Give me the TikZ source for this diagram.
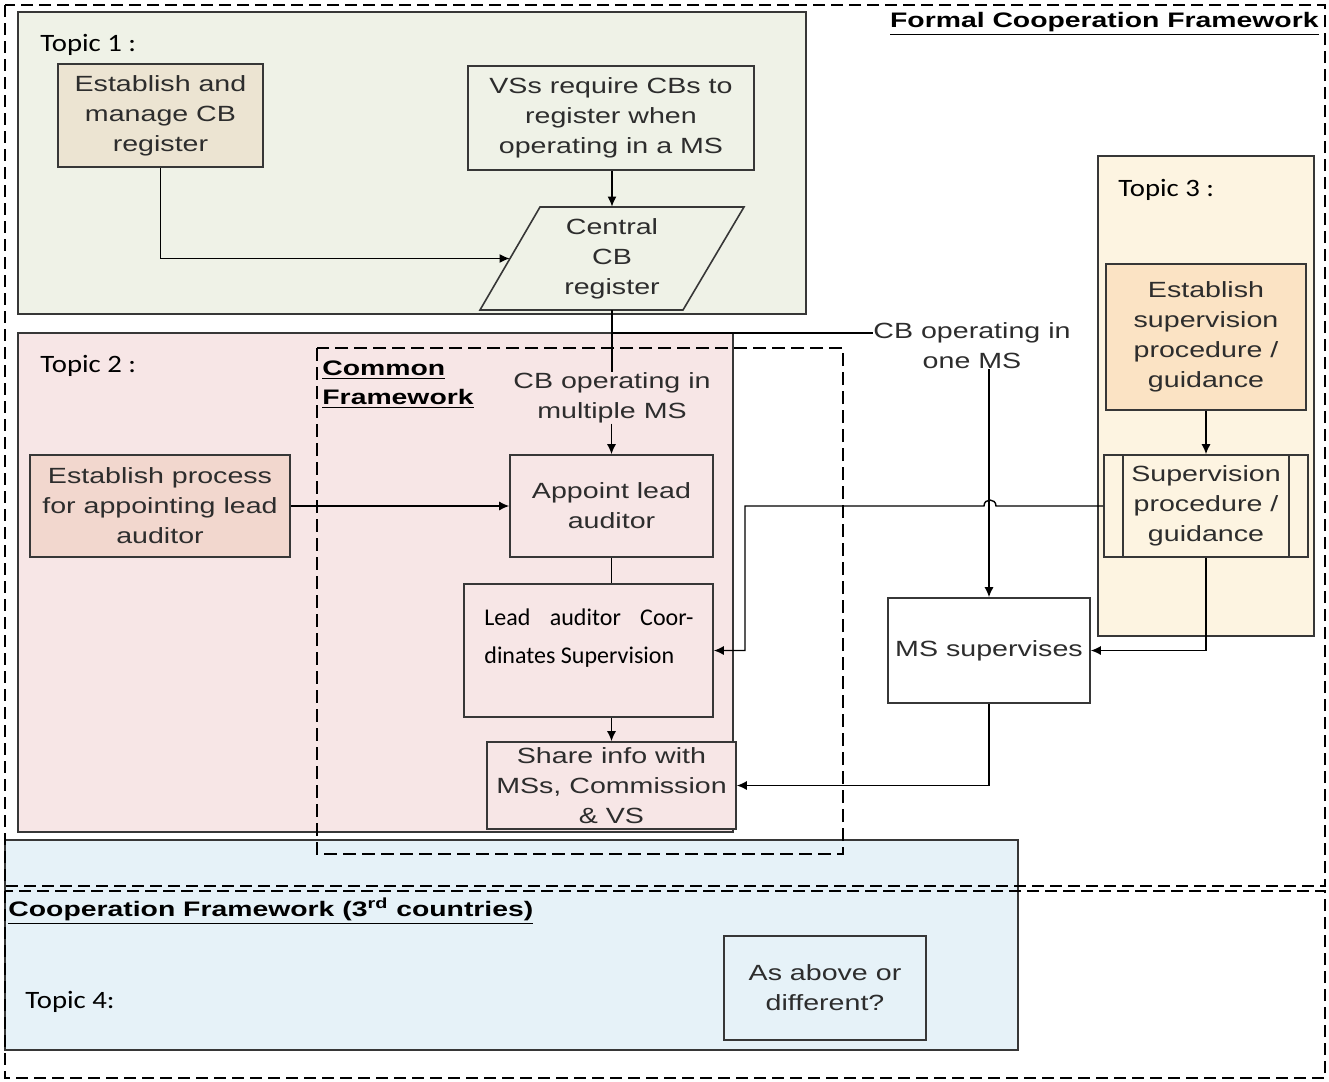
\documentclass[tikz,border=0pt]{standalone}
\usepackage{fontspec}
\setmainfont{Liberation Sans}[FakeStretch=1.3]
\newfontfamily\titlefont{Liberation Sans}[FakeStretch=1.35]
\newfontfamily\calfont{Carlito}
\newfontfamily\topicfont{Carlito}[FakeStretch=1.15]
\usetikzlibrary{arrows.meta,calc}
\definecolor{tonebg}{RGB}{239,242,231}
\definecolor{tonebox}{RGB}{236,228,210}
\definecolor{ttwobg}{RGB}{247,230,230}
\definecolor{ttwobox}{RGB}{242,215,206}
\definecolor{tthreebg}{RGB}{253,244,225}
\definecolor{tthreebox}{RGB}{251,227,196}
\definecolor{tfourbg}{RGB}{230,242,248}
\definecolor{edge}{RGB}{55,55,55}
\definecolor{textcol}{RGB}{45,45,45}
\begin{document}
\begin{tikzpicture}[x=0.5pt,y=-0.5pt,
  topicbox/.style={draw=edge,line width=0.8pt},
  bx/.style={draw=edge,line width=0.8pt,inner sep=0pt,align=center,text=textcol,font=\fontsize{11}{15}\selectfont},
  lbl/.style={inner sep=0pt,align=center,text=textcol,font=\fontsize{11}{15}\selectfont},
  frame/.style={line width=1pt,dash pattern=on 6pt off 3pt},
  cframe/.style={line width=0.75pt,dash pattern=on 6.5pt off 3pt},
  conn/.style={line width=0.7pt,draw=black},
  arr/.style={conn,-{Latex[length=5pt,width=4.5pt]}},
  topic/.style={font=\topicfont\fontsize{12.5}{15}\selectfont,anchor=base west,inner sep=0pt,text=black},
  leadtext/.style={font=\calfont\fontsize{12}{15}\selectfont,anchor=base west,inner sep=0pt,text=black},
  title/.style={font=\titlefont\bfseries\fontsize{10.5}{14.5}\selectfont,inner sep=0pt,text=black}]
\useasboundingbox (0,0) rectangle (1329,1082);
\fill[white] (0,0) rectangle (1329,1082);
% topic areas
\draw[topicbox,fill=tonebg] (18,12) rectangle (806,314);
\draw[topicbox,fill=ttwobg] (18,333) rectangle (733,832);
\draw[topicbox,fill=tthreebg] (1098,156) rectangle (1314,636);
\draw[topicbox,fill=tfourbg] (5,840) rectangle (1018,1050);
% dashed frames
\draw[frame] (5,5) rectangle (1325,886);
\draw[frame] (5,891) rectangle (1325,1078);
\draw[cframe] (317,348) rectangle (843,854);
% parallelogram
\draw[line width=0.8pt,draw=edge,fill=tonebg] (540,207) -- (744,207) -- (683,310) -- (480,310) -- cycle;
% nodes
\node[bx,fill=tonebox,minimum width=102.5pt,minimum height=51.5pt] (est1) at (160.5,115.5) {Establish and\\manage CB\\register};
\node[bx,fill=tonebg,minimum width=143pt,minimum height=52pt] (vss) at (611,118) {VSs require CBs to\\register when\\operating in a MS};
\node[lbl,minimum width=102pt,minimum height=51.5pt] (reg) at (612,258.5) {Central\\CB\\register};
\node[bx,fill=ttwobg,minimum width=101.5pt,minimum height=51pt] (apl) at (611.5,506) {Appoint lead\\auditor};
\node[bx,fill=ttwobox,minimum width=130pt,minimum height=51pt] (estp) at (160,506) {Establish process\\for appointing lead\\auditor};
\node[bx,fill=ttwobg,minimum width=124.5pt,minimum height=66.5pt] (lead) at (588.5,650.5) {};
\node[leadtext] (leada) at (484,625) {\makebox[104.5pt][s]{Lead auditor Coor-}};
\node[leadtext] (leadb) at (484,663) {dinates Supervision};
\node[bx,fill=ttwobg,minimum width=124.5pt,minimum height=43.5pt] (share) at (611.5,785.5) {Share info with\\MSs, Commission\\\& VS};
\node[bx,fill=tthreebox,minimum width=100pt,minimum height=73pt] (ests) at (1206,337) {Establish\\supervision\\procedure /\\guidance};
\node[bx,fill=tthreebg,minimum width=102pt,minimum height=51pt] (sup) at (1206,506) {Supervision\\procedure /\\guidance};
\draw[draw=edge,line width=0.8pt] ([xshift=10pt]sup.north west) -- ([xshift=10pt]sup.south west);
\draw[draw=edge,line width=0.8pt] ([xshift=-10pt]sup.north east) -- ([xshift=-10pt]sup.south east);
\node[bx,fill=white,minimum width=101pt,minimum height=52.5pt] (ms) at (989,650.5) {MS supervises};
\node[bx,fill=tfourbg,minimum width=101pt,minimum height=52pt] (asab) at (825,988) {As above or\\different?};
% labels
\node[lbl] (onems) at (972,346) {CB operating in\\one MS};
\node[lbl] (multi) at (612,398) {CB operating in\\multiple MS};
\node[topic] (t1) at (40,51) {Topic 1 :};
\node[topic] (t2) at (40,372) {Topic 2 :};
\node[topic] (t3) at (1118,196) {Topic 3 :};
\node[topic] (t4) at (25,1008) {Topic 4:};
\node[title,anchor=base east] (fcf) at (1319,27) {\underline{Formal Cooperation Framework}};
\node[title,anchor=base west] (cfa) at (322,375) {\underline{Common}};
\node[title,anchor=base west] (cfb) at (322,404) {\underline{Framework}};
\node[title,anchor=base west] (cft) at (8,916) {\underline{Cooperation Framework (3\textsuperscript{rd} countries)}};
% connectors
\coordinate (jn) at (612,333);
\coordinate (bendl) at (745,506);
\draw[arr] (est1.south) |- (reg.west);
\draw[arr] (vss.south -| reg.north) -- (reg.north);
\draw[conn] (reg.south) -- (reg.south |- multi.north);
\draw[conn] (jn) -- (jn -| onems.west);
\draw[arr] (ms.north |- onems.south) -- (ms.north);
\draw[arr] (apl.north |- multi.south) -- (apl.north);
\draw[arr] (estp.east) -- (apl.west);
\draw[conn] (apl.south) -- (apl.south |- lead.north);
\draw[arr] (apl.south |- lead.south) -- (apl.south |- share.north);
\draw[arr] (ests.south) -- (sup.north);
\draw[arr] (sup.west) -- (996,506) .. controls (996,498) and (984,498) .. (984,506) -- (bendl) -- (bendl |- lead.east) -- (lead.east);
\draw[arr] (sup.south) |- (ms.east);
\draw[arr] (ms.south) |- (share.east);
\end{tikzpicture}
\end{document}
